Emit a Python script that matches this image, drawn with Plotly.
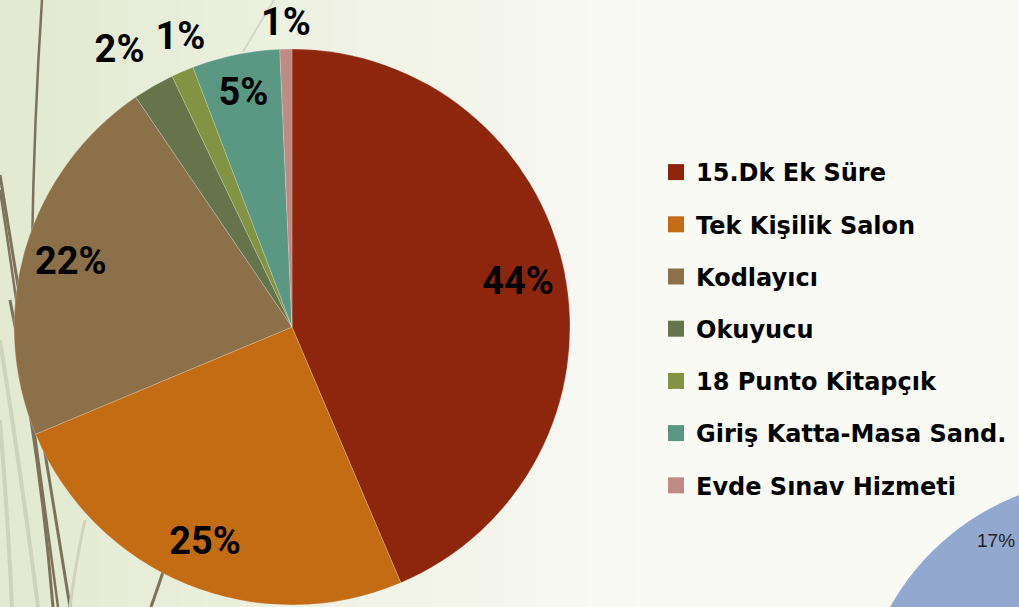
import plotly.graph_objects as go

categories = ["15.Dk Ek Süre", "Tek Kişilik Salon", "Kodlayıcı", "Okuyucu",
              "18 Punto Kitapçık", "Giriş Katta-Masa Sand.", "Evde Sınav Hizmeti"]
values = [43.6, 25.1, 21.8, 2.4, 1.3, 5.1, 0.7]
colors = ["#8E260E", "#C46C14", "#8B7049", "#65744B", "#829444", "#5B9883", "#C08A87"]
label_inside = [True, True, True, False, False, True, False]
# pixel nudges for the outside labels of the small slices (index -> (dx, dy))
label_nudge = {3: (2, -20), 4: (34, -17), 6: (36, -5)}

W, H = 1019, 607
PCT = "%{percent:.0%}"

def px(x):
    return x / W

def py(y):
    return 1 - y / H

fig = go.Figure()

# background gradient (left light green -> right near white)
n = 40
c0 = (227, 234, 209)
c1 = (250, 250, 245)
for i in range(n):
    t = i / (n - 1)
    c = tuple(int(c0[k] + (c1[k] - c0[k]) * min(1, t * 1.6)) for k in range(3))
    fig.add_shape(type="rect", xref="paper", yref="paper",
                  x0=i / n, x1=(i + 1) / n + 0.002, y0=0, y1=1,
                  fillcolor="rgb(%d,%d,%d)" % c, line_width=0, layer="below")

# decorative lines
def path(pts):
    s = "M %f,%f" % (px(pts[0][0]), py(pts[0][1]))
    for i in range(1, len(pts) - 1, 2):
        s += " Q %f,%f %f,%f" % (px(pts[i][0]), py(pts[i][1]), px(pts[i + 1][0]), py(pts[i + 1][1]))
    return s

deco = [
    ([(42, 0), (34, 120), (32, 250)], "#7d715a", 2.5),
    ([(0, 175), (20, 300), (70, 607)], "#7d715a", 3),
    ([(0, 190), (20, 320), (58, 607)], "#7d715a", 2.5),
    ([(10, 300), (40, 450), (53, 607)], "#7d715a", 3),
    ([(0, 420), (8, 520), (12, 607)], "#cfd3bb", 4),
    ([(0, 340), (22, 480), (38, 607)], "#cfd3bb", 4),
    ([(85, 520), (76, 560), (70, 607)], "#cfd3bb", 3),
    ([(163, 572), (157, 590), (151, 607)], "#7d715a", 3),
    ([(243, 52), (258, 26), (274, 0)], "#d4d6c8", 2),
]
for pts, col, w in deco:
    fig.add_shape(type="path", xref="paper", yref="paper", path=path(pts),
                  line=dict(color=col, width=w), layer="below")

# partial blue pie from next chart (bottom right)
cx, cy, r = 1110, 730, 252
fig.add_shape(type="circle", xref="paper", yref="paper",
              x0=px(cx - r), x1=px(cx + r), y0=py(cy + r), y1=py(cy - r),
              fillcolor="#93A8CE", line_width=0, layer="below")
fig.add_annotation(x=px(1017), y=py(553), xref="paper", yref="paper", text="17%",
                   xanchor="right", showarrow=False,
                   font=dict(family="Liberation Sans", size=19, color="#222"))

PIE_L, PIE_R, PIE_T, PIE_B = 14, 570, 49, 605

def domain(dx=0, dy=0):
    return dict(x=[px(PIE_L + dx), px(PIE_R + dx)], y=[py(PIE_B + dy), py(PIE_T + dy)])

label_font = dict(family="Roboto", size=38, color="black", weight="bold")
clear = ["rgba(0,0,0,0)"] * len(values)

# coloured slices
fig.add_trace(go.Pie(
    labels=categories, values=values, sort=False, direction="clockwise", rotation=0,
    marker=dict(colors=colors, line=dict(color="rgba(255,255,255,0.35)", width=0.6)),
    textinfo="none", showlegend=False, hoverinfo="label+percent",
    domain=domain(),
))

# transparent ring carrying the inside percentage labels (placed near the rim)
fig.add_trace(go.Pie(
    labels=categories, values=values, sort=False, direction="clockwise", rotation=0,
    hole=0.66,
    marker=dict(colors=clear, line=dict(width=0)),
    texttemplate=[PCT if f else "" for f in label_inside],
    textposition=["inside" if f else "none" for f in label_inside],
    textfont=label_font, insidetextorientation="horizontal",
    showlegend=False, hoverinfo="skip",
    domain=domain(),
))

# one transparent trace per small slice, each carrying its own outside label
for i, f in enumerate(label_inside):
    if f:
        continue
    dx, dy = label_nudge.get(i, (0, 0))
    fig.add_trace(go.Pie(
        labels=categories, values=values, sort=False, direction="clockwise", rotation=0,
        marker=dict(colors=clear, line=dict(width=0)),
        texttemplate=[PCT if j == i else "" for j in range(len(values))],
        textposition=["outside" if j == i else "none" for j in range(len(values))],
        textfont=label_font,
        showlegend=False, hoverinfo="skip",
        domain=domain(dx, dy),
    ))

for cat, col in zip(categories, colors):
    fig.add_trace(go.Scatter(x=[None], y=[None], mode="markers", name=cat,
                             legendgroup=cat,
                             marker=dict(symbol="square", size=16, color=col)))

fig.update_layout(
    width=W, height=H,
    margin=dict(l=0, r=0, t=0, b=0, autoexpand=False),
    paper_bgcolor="#F4F6EC", plot_bgcolor="rgba(0,0,0,0)",
    xaxis=dict(visible=False), yaxis=dict(visible=False),
    legend=dict(x=px(656), y=py(150), xanchor="left", yanchor="top",
                font=dict(family="DejaVu Sans", size=24, color="black", weight="bold"),
                tracegroupgap=18, itemwidth=30, bgcolor="rgba(0,0,0,0)"),
    showlegend=True,
)

fig.write_html(
    "out.html",
    config={"displayModeBar": False},
    post_script="document.body.style.margin='0';"
                "document.querySelectorAll('path.textline').forEach(function(e){e.style.display='none';});",
)
